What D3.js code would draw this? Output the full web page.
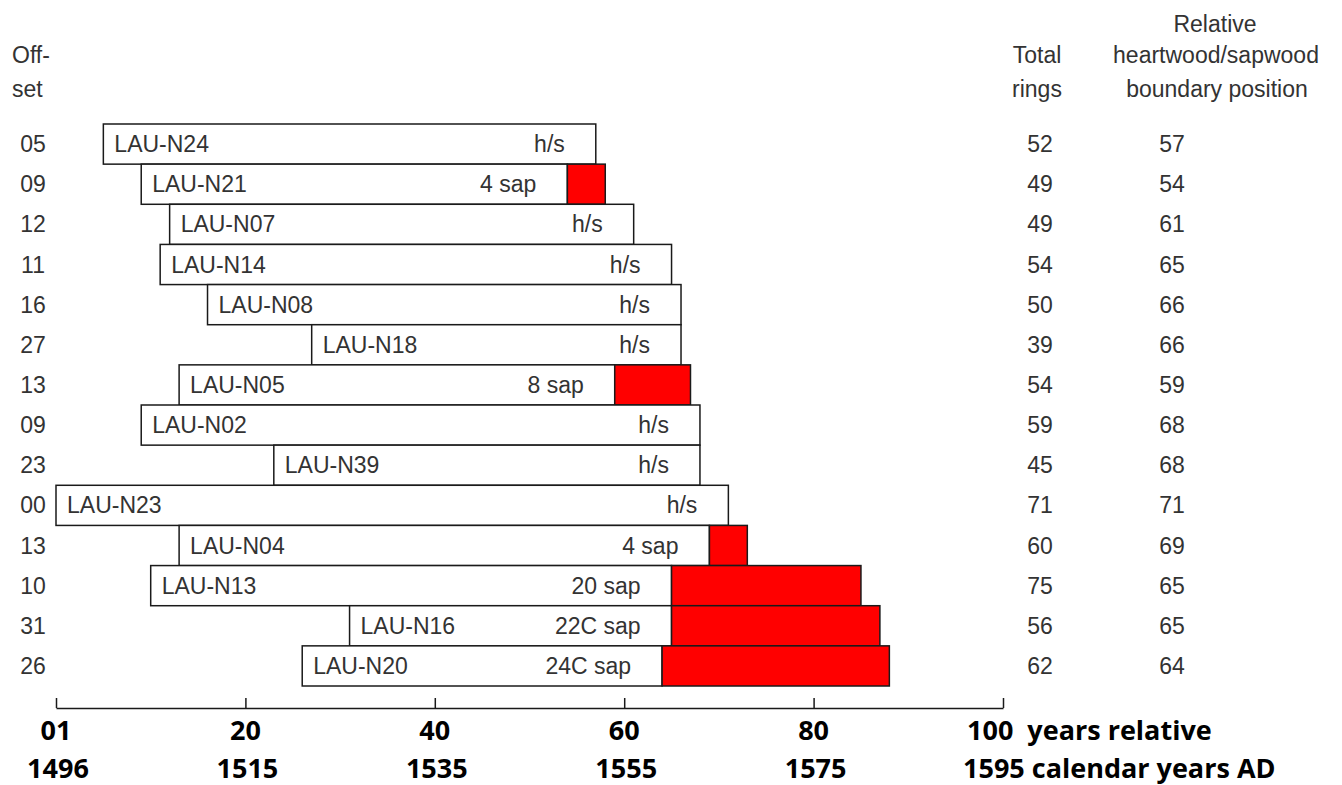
<!DOCTYPE html>
<html><head><meta charset="utf-8">
<script src="https://cdn.jsdelivr.net/npm/d3@7"></script>
<style>
html,body{margin:0;padding:0;background:#fff;}
svg{display:block;}
</style></head>
<body>
<svg id="chart" width="1342" height="785"></svg>
<script>
const samples   = ["LAU-N24","LAU-N21","LAU-N07","LAU-N14","LAU-N08","LAU-N18","LAU-N05","LAU-N02","LAU-N39","LAU-N23","LAU-N04","LAU-N13","LAU-N16","LAU-N20"];
const offsets   = [5, 9, 12, 11, 16, 27, 13, 9, 23, 0, 13, 10, 31, 26];
const totalRings= [52, 49, 49, 54, 50, 39, 54, 59, 45, 71, 60, 75, 56, 62];
const hsBoundary= [57, 54, 61, 65, 66, 66, 59, 68, 68, 71, 69, 65, 65, 64];
const sapLabels = ["h/s","4 sap","h/s","h/s","h/s","h/s","8 sap","h/s","h/s","h/s","4 sap","20 sap","22C sap","24C sap"];
const tickValues   = [0, 20, 40, 60, 80, 100];
const relLabels    = ["01","20","40","60","80","100"];
const calLabels    = ["1496","1515","1535","1555","1575","1595"];

const data = samples.map((s,i)=>({name:s, offset:offsets[i], total:totalRings[i], hs:hsBoundary[i], sap:sapLabels[i], end:offsets[i]+totalRings[i]}));

const svg = d3.select("#chart");
const x = d3.scaleLinear().domain([0,100]).range([56,1003]);
const y = d3.scaleBand().domain(samples).range([124,686]).padding(0);

const FONT = "'Liberation Sans', Arial, sans-serif";
const TXT = "#333";
const STROKE = "#1a1a1a";

// headers
const hdr = svg.append("g").attr("font-family",FONT).attr("font-size",23).attr("fill",TXT);
hdr.append("text").attr("x",12).attr("y",63).text("Off-");
hdr.append("text").attr("x",12).attr("y",97).text("set");
hdr.append("text").attr("x",1037).attr("y",63).attr("text-anchor","middle").text("Total");
hdr.append("text").attr("x",1037).attr("y",97).attr("text-anchor","middle").text("rings");
hdr.append("text").attr("x",1215).attr("y",32).attr("text-anchor","middle").text("Relative");
hdr.append("text").attr("x",1216).attr("y",63).attr("text-anchor","middle").text("heartwood/sapwood");
hdr.append("text").attr("x",1217).attr("y",97).attr("text-anchor","middle").text("boundary position");

const rows = svg.append("g").selectAll("g").data(data).join("g");

// white (heartwood) part
rows.append("rect")
  .attr("x",d=>x(d.offset)).attr("y",d=>y(d.name))
  .attr("width",d=>x(d.hs)-x(d.offset)).attr("height",y.bandwidth())
  .attr("fill","#fff").attr("stroke",STROKE).attr("stroke-width",1.5);
// red (sapwood) part
rows.filter(d=>d.end>d.hs).append("rect")
  .attr("x",d=>x(d.hs)).attr("y",d=>y(d.name))
  .attr("width",d=>x(d.end)-x(d.hs)).attr("height",y.bandwidth())
  .attr("fill","#ff0000").attr("stroke",STROKE).attr("stroke-width",1.5);

const cy = d=>y(d.name)+y.bandwidth()/2+8;
const t = rows.append("g").attr("font-family",FONT).attr("font-size",23).attr("fill",TXT);
t.append("text").attr("x",d=>x(d.offset)+11).attr("y",cy).text(d=>d.name);
t.append("text").attr("x",d=>x(d.hs)-31).attr("y",cy).attr("text-anchor","end").text(d=>d.sap);
t.append("text").attr("x",33).attr("y",cy).attr("text-anchor","middle").text(d=>d3.format("02d")(d.offset));
t.append("text").attr("x",1040).attr("y",cy).attr("text-anchor","middle").text(d=>d.total);
t.append("text").attr("x",1172).attr("y",cy).attr("text-anchor","middle").text(d=>d.hs);

// axis
const axis = d3.axisBottom(x).tickValues(tickValues).tickSizeInner(-10).tickSizeOuter(0).tickFormat("");
const ag = svg.append("g").attr("transform","translate(0,708)").call(axis);
ag.select(".domain").attr("stroke",STROKE).attr("stroke-width",1.5);
ag.selectAll(".tick line").attr("stroke",STROKE).attr("stroke-width",1.5);

const lab = svg.append("g").attr("font-family","'Open Sans', sans-serif").attr("font-weight","bold").attr("font-size",27).attr("fill","#000");
tickValues.forEach((v,i)=>{
  if(i<tickValues.length-1){
    lab.append("text").attr("x",x(v)).attr("y",740).attr("text-anchor","middle").text(relLabels[i]);
    lab.append("text").attr("x",x(v)+2).attr("y",778).attr("text-anchor","middle").text(calLabels[i]);
  } else {
    lab.append("text").attr("x",x(v)-36).attr("y",740).attr("xml:space","preserve").text(relLabels[i]+"  years relative");
    lab.append("text").attr("x",x(v)-40).attr("y",778).text(calLabels[i]+" calendar years AD");
  }
});
</script>
</body></html>
